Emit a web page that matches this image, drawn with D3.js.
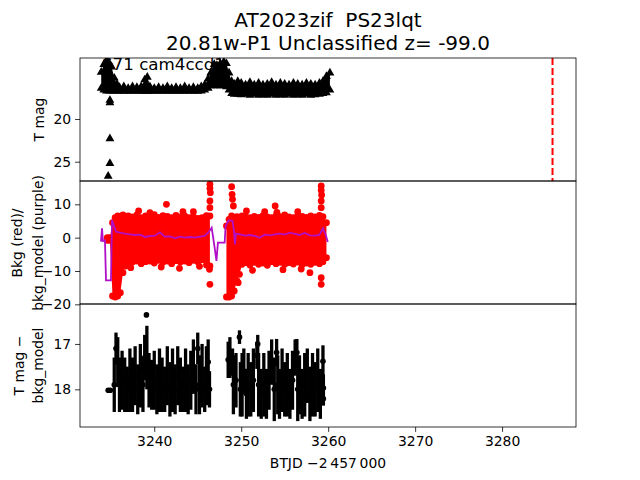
<!DOCTYPE html>
<html>
<head>
<meta charset="utf-8">
<script src="https://cdn.jsdelivr.net/npm/d3@7"></script>
<style>
  body { margin: 0; background: #fff; }
  svg text { font-family: "DejaVu Sans", sans-serif; }
</style>
</head>
<body>
<svg id="chart" width="640" height="480"></svg>
<script>
// --- top panel: T mag (triangles), band as [time, upper mag, lower mag]
const tmagBand = [
  [3233.9, 14.5, 16.4], [3234.2, 13.6, 16.6], [3234.5, 13.2, 16.7], [3234.8, 13.4, 16.7],
  [3235.1, 13.9, 16.7], [3235.4, 15.2, 16.7], [3235.7, 15.9, 16.7], [3236.0, 16.3, 16.75],
  [3236.5, 16.2, 16.75], [3237.0, 16.4, 16.75], [3237.5, 16.2, 16.75], [3238.0, 16.3, 16.75],
  [3238.5, 16.2, 16.75], [3238.9, 15.4, 16.75], [3239.2, 15.1, 16.75], [3239.5, 16.2, 16.75],
  [3240.0, 16.4, 16.75], [3240.5, 16.3, 16.75], [3241.0, 16.4, 16.75], [3241.5, 16.2, 16.75],
  [3242.0, 16.4, 16.75], [3242.5, 16.3, 16.75], [3243.0, 16.4, 16.75], [3243.5, 16.2, 16.75],
  [3244.0, 16.4, 16.75], [3244.5, 16.3, 16.75], [3245.0, 16.4, 16.75], [3245.4, 16.2, 16.7],
  [3245.8, 16.0, 16.6], [3246.2, 15.3, 16.4], [3246.5, 14.6, 16.1], [3246.9, 13.6, 16.1],
  [3247.2, 13.7, 16.1], [3247.6, 13.5, 16.1], [3248.0, 13.3, 16.1], [3248.3, 13.5, 16.2],
  [3248.6, 14.6, 16.6], [3248.9, 15.6, 17.0], [3249.2, 15.9, 17.1], [3249.6, 15.6, 17.1],
  [3250.0, 15.8, 17.15], [3250.5, 16.0, 17.1], [3251.0, 15.7, 17.2], [3251.5, 16.0, 17.1],
  [3252.0, 15.8, 17.2], [3252.5, 16.0, 17.15], [3253.0, 15.9, 17.2], [3253.5, 15.7, 17.1],
  [3254.0, 16.0, 17.2], [3254.5, 15.8, 17.15], [3255.0, 15.9, 17.2], [3255.5, 16.0, 17.1],
  [3256.0, 15.8, 17.2], [3256.5, 15.9, 17.15], [3257.0, 16.0, 17.2], [3257.5, 15.8, 17.1],
  [3258.0, 15.9, 17.2], [3258.5, 16.0, 17.15], [3259.0, 15.8, 17.1], [3259.4, 15.6, 17.0],
  [3259.8, 15.0, 16.9], [3260.2, 14.6, 16.6]
];
const tmagFaint = [[3234.9, 17.8], [3234.9, 18.1], [3234.9, 22.3], [3234.9, 25.2], [3234.7, 26.7]];
const newsTime = 3285.8;

// --- middle panel: background, band as [time, low, high], outliers and model
const bkgBand = [
  [3234.6, -0.8, 0.0], [3234.9, -0.8, 0.0], [3235.2, -17.5, 4.5], [3235.5, -17.8, 6.0],
  [3235.8, -17.5, 6.5], [3236.1, -16.5, 6.2], [3236.4, -10.5, 6.8], [3236.7, -8.5, 6.0],
  [3237.0, -7.8, 6.5], [3237.5, -7.3, 6.2], [3238.0, -7.0, 6.8], [3238.5, -7.8, 6.0],
  [3239.0, -7.2, 6.5], [3239.5, -7.0, 6.3], [3240.0, -7.6, 6.9], [3240.5, -6.8, 6.1],
  [3241.0, -7.4, 6.6], [3241.5, -7.0, 6.4], [3242.0, -7.8, 6.0], [3242.5, -6.9, 6.7],
  [3243.0, -7.3, 6.2], [3243.5, -7.0, 6.5], [3244.0, -7.5, 6.0], [3244.5, -6.8, 6.3],
  [3245.0, -7.2, 5.8], [3245.5, -6.6, 6.0], [3246.0, -8.2, 6.6], [3246.4, -8.5, 6.5]
];
const bkgBand2 = [
  [3248.3, -17.8, 3.5], [3248.6, -17.8, 5.5], [3248.9, -17.5, 6.5], [3249.2, -16.0, 6.0],
  [3249.5, -13.0, 6.3], [3249.8, -11.0, 6.0], [3250.1, -8.0, 6.5], [3250.5, -7.5, 6.2],
  [3251.0, -8.2, 6.0], [3251.5, -7.4, 6.4], [3252.0, -8.0, 6.1], [3252.5, -7.6, 6.6],
  [3253.0, -8.3, 6.2], [3253.5, -7.2, 6.0], [3254.0, -7.8, 6.5], [3254.5, -7.4, 6.3],
  [3255.0, -8.0, 6.8], [3255.5, -7.5, 6.2], [3256.0, -7.9, 6.0], [3256.5, -7.3, 6.6],
  [3257.0, -8.1, 6.4], [3257.5, -7.6, 6.1], [3258.0, -8.0, 6.5], [3258.5, -7.4, 6.2],
  [3259.0, -7.8, 6.7], [3259.4, -7.2, 6.3], [3259.8, -6.0, 4.5]
];
const bkgOutliers = [
  [3241.4, 10.0], [3243.3, 7.8], [3238.2, 8.0], [3239.5, 7.5], [3244.5, 7.8],
  [3237.3, -9.0], [3240.8, -8.8], [3242.9, -9.2], [3245.2, -8.6],
  [3246.4, 16.0], [3246.4, 14.8], [3246.45, 13.5], [3246.4, 11.0], [3246.4, 9.0],
  [3246.4, -14.0], [3246.35, -9.5],
  [3248.9, 15.3], [3248.95, 13.0], [3249.0, 11.5], [3249.1, 9.5], [3249.65, -13.5],
  [3252.7, 7.8], [3253.9, 9.5], [3254.1, 7.6], [3256.5, 7.8], [3257.9, -10.5],
  [3251.3, -9.8], [3254.8, -9.6], [3256.9, -9.4], [3250.6, 8.0],
  [3259.2, 15.5], [3259.2, 14.2], [3259.25, 12.8], [3259.2, 11.0], [3259.2, 9.0],
  [3259.2, -12.0], [3259.2, -14.0]
];
const bkgModel = [
  [3233.87, -1.2], [3233.99, 2.8], [3234.1, -1.0], [3234.33, -0.8], [3234.45, -12.8],
  [3235.02, -12.8], [3235.14, 5.3], [3235.37, 3.5], [3235.6, 1.8], [3236.06, 1.5],
  [3236.6, 1.2], [3237.2, 1.0], [3237.8, 0.8], [3238.36, 0.9], [3238.93, 0.2],
  [3239.5, 0.5], [3240.08, 0.6], [3240.66, 1.6], [3241.2, 0.3], [3241.8, 0.4],
  [3242.4, -0.2], [3242.95, 0.3], [3243.5, 0.0], [3244.1, 0.2], [3244.7, 0.0],
  [3245.25, 0.3], [3245.8, 0.5], [3246.3, 1.8], [3246.6, 3.0], [3246.75, 0.5],
  [3246.97, -3.5], [3247.15, -7.0], [3247.32, -1.5], [3248.1, -1.5], [3248.2, 3.5],
  [3248.56, 5.2], [3249.0, 5.0], [3249.16, 2.0], [3249.28, -2.0], [3249.4, 1.2],
  [3249.85, 1.0], [3250.4, 0.6], [3251.0, 0.8], [3251.6, 0.5], [3252.1, 0.0],
  [3252.7, 0.9], [3253.3, 0.7], [3253.9, 1.0], [3254.4, 1.2], [3255.0, 0.9],
  [3255.6, 1.5], [3256.2, 1.1], [3256.7, 0.8], [3257.3, 1.4], [3257.9, 0.7],
  [3258.5, 0.6], [3259.0, 0.8], [3259.4, 2.8], [3259.7, 1.0], [3259.95, -1.3]
];

// --- bottom panel: T mag - bkg_model as [time, mag, error]
const diffPoints = [
  [3234.7, 18.02, 0.03], [3234.95, 18.02, 0.03], [3235.4, 17.9, 0.6], [3235.6, 17.1, 0.35],
  [3235.8, 17.4, 0.55], [3236.0, 17.9, 0.6], [3236.3, 17.8, 0.65], [3236.6, 17.9, 0.6],
  [3236.9, 18.0, 0.5], [3237.2, 17.8, 0.7], [3237.5, 17.9, 0.6], [3237.8, 17.7, 0.65],
  [3238.1, 18.0, 0.55], [3238.4, 17.7, 0.7], [3238.7, 17.9, 0.6], [3238.9, 17.3, 0.5],
  [3239.1, 16.36, 0.04], [3239.15, 17.3, 0.7], [3239.4, 17.8, 0.6], [3239.7, 17.9, 0.55],
  [3240.0, 17.8, 0.65], [3240.3, 18.0, 0.55], [3240.6, 17.8, 0.7], [3240.9, 17.9, 0.6],
  [3241.2, 18.0, 0.5], [3241.5, 17.7, 0.65], [3241.8, 18.0, 0.6], [3242.1, 17.8, 0.7],
  [3242.4, 18.0, 0.55], [3242.7, 17.7, 0.65], [3243.0, 17.9, 0.6], [3243.3, 18.0, 0.5],
  [3243.6, 17.8, 0.7], [3243.9, 18.0, 0.55], [3244.2, 17.8, 0.65], [3244.5, 17.5, 0.6],
  [3244.8, 18.0, 0.55], [3245.0, 17.1, 0.35], [3245.2, 17.9, 0.65], [3245.5, 17.7, 0.7],
  [3245.8, 18.0, 0.5], [3246.0, 17.7, 0.65], [3246.2, 17.4, 0.5], [3246.35, 18.0, 0.4],
  [3248.5, 17.35, 0.4], [3248.7, 17.3, 0.45], [3249.0, 17.4, 0.3], [3249.1, 17.9, 0.65],
  [3249.4, 17.8, 0.6], [3249.8, 16.85, 0.15], [3249.9, 18.0, 0.6], [3250.1, 17.9, 0.7],
  [3250.3, 17.6, 0.5], [3250.6, 18.1, 0.55], [3250.8, 17.9, 0.7], [3251.1, 18.0, 0.6],
  [3251.4, 17.8, 0.7], [3251.8, 17.25, 0.3], [3251.9, 17.0, 0.2], [3252.0, 17.9, 0.7],
  [3252.3, 18.1, 0.55], [3252.6, 17.9, 0.7], [3252.9, 18.1, 0.55], [3253.2, 17.8, 0.65],
  [3253.5, 17.4, 0.5], [3253.8, 18.0, 0.7], [3254.07, 17.19, 0.3], [3254.2, 17.9, 0.65],
  [3254.4, 18.1, 0.55], [3254.7, 17.8, 0.7], [3255.0, 18.0, 0.6], [3255.3, 17.9, 0.7],
  [3255.6, 18.1, 0.55], [3255.9, 17.8, 0.65], [3256.2, 17.3, 0.4], [3256.4, 17.19, 0.3],
  [3256.5, 18.0, 0.7], [3256.7, 17.9, 0.65], [3257.0, 18.1, 0.55], [3257.3, 17.9, 0.7],
  [3257.6, 17.7, 0.6], [3257.9, 18.1, 0.6], [3258.2, 17.9, 0.7], [3258.5, 18.0, 0.6],
  [3258.8, 17.8, 0.7], [3259.1, 18.1, 0.55], [3259.4, 17.38, 0.35], [3259.45, 17.97, 0.3],
  [3259.45, 18.21, 0.15]
];

const titleLines = ["AT2023zif  PS23lqt", "20.81w-P1 Unclassified z= -99.0"];
const sectorLabel = "S71 cam4ccd1";
const xTicks = [3240, 3250, 3260, 3270, 3280];

const svg = d3.select("#chart");
const left = 80, right = 576;
const tops = [58, 181, 304], ph = 123;

const x = d3.scaleLinear().domain([3231.46, 3288.5]).range([left, right]);
const y1 = d3.scaleLinear().domain([12.85, 27.26]).range([tops[0], tops[0] + ph]);
const y2 = d3.scaleLinear().domain([-19.9, 17.0]).range([tops[1] + ph, tops[1]]);
const y3 = d3.scaleLinear().domain([16.12, 18.83]).range([tops[2], tops[2] + ph]);

const purple = "#b010c8";

function styleAxis(g) {
  g.select(".domain").remove();
  g.selectAll("line").attr("stroke", "#000").attr("stroke-width", 0.8);
  g.selectAll("text")
    .attr("fill", "#000")
    .attr("font-size", "13.9px")
    .attr("font-family", "DejaVu Sans");
}

function panel(i) {
  const id = "clip" + i;
  svg.append("clipPath").attr("id", id)
    .append("rect").attr("x", left).attr("y", tops[i])
    .attr("width", right - left).attr("height", ph);
  return svg.append("g").attr("clip-path", `url(#${id})`);
}

// title
svg.selectAll(".title").data(titleLines).enter()
  .append("text").attr("class", "title")
  .attr("x", 328).attr("y", (d, i) => 27 + i * 23)
  .attr("text-anchor", "middle").attr("font-size", "20px")
  .style("white-space", "pre")
  .text(d => d);

// ---- panel 1
const g1 = panel(0);
g1.append("text").attr("x", 102).attr("y", 70)
  .attr("font-size", "16.7px").text(sectorLabel);

g1.append("path")
  .attr("fill", "#000")
  .attr("d", d3.area().x(d => x(d[0])).y0(d => y1(d[2])).y1(d => y1(d[1]))(tmagBand));

const tri = d3.symbol().type(d3.symbolTriangle).size(34);
const triPts = tmagBand.flatMap(d => [[d[0], d[1]], [d[0], d[2]]]).concat(tmagFaint);
g1.selectAll(".tri").data(triPts).enter()
  .append("path").attr("class", "tri")
  .attr("d", tri).attr("fill", "#000")
  .attr("transform", d => `translate(${x(d[0])},${y1(d[1])})`);

g1.append("line")
  .attr("x1", x(newsTime)).attr("x2", x(newsTime))
  .attr("y1", y1.range()[0]).attr("y2", y1.range()[1])
  .attr("stroke", "#ff0000").attr("stroke-width", 2)
  .attr("stroke-dasharray", "7,3");

// ---- panel 2
const g2 = panel(1);
const bandArea = d3.area().x(d => x(d[0])).y0(d => y2(d[1])).y1(d => y2(d[2]));
[bkgBand, bkgBand2].forEach(band => {
  g2.append("path").attr("fill", "#ff0000").attr("d", bandArea(band));
});
const redPts = bkgBand.concat(bkgBand2)
  .flatMap(d => [[d[0], d[1]], [d[0], d[2]]])
  .concat(bkgOutliers);
g2.selectAll(".bkg").data(redPts).enter()
  .append("circle").attr("class", "bkg")
  .attr("cx", d => x(d[0])).attr("cy", d => y2(d[1]))
  .attr("r", 3.4).attr("fill", "#ff0000");

g2.append("path")
  .attr("fill", "none").attr("stroke", purple).attr("stroke-width", 1.8)
  .attr("d", d3.line().x(d => x(d[0])).y(d => y2(d[1]))(bkgModel));

// ---- panel 3
const g3 = panel(2);
g3.selectAll(".err").data(diffPoints).enter()
  .append("line").attr("class", "err")
  .attr("x1", d => x(d[0])).attr("x2", d => x(d[0]))
  .attr("y1", d => y3(d[1] - d[2])).attr("y2", d => y3(d[1] + d[2]))
  .attr("stroke", "#000").attr("stroke-width", 3.3);
g3.selectAll(".pt").data(diffPoints).enter()
  .append("circle").attr("class", "pt")
  .attr("cx", d => x(d[0])).attr("cy", d => y3(d[1]))
  .attr("r", 2.8).attr("fill", "#000");

// frames
tops.forEach(t => {
  svg.append("rect").attr("x", left).attr("y", t)
    .attr("width", right - left).attr("height", ph)
    .attr("fill", "none").attr("stroke", "#000").attr("stroke-width", 0.8);
});

// axes
const fmt = d3.format("d");
svg.append("g").attr("transform", `translate(${left},0)`)
  .call(d3.axisLeft(y1).tickValues([20, 25]).tickFormat(fmt).tickSize(4.9).tickPadding(4))
  .call(styleAxis);
svg.append("g").attr("transform", `translate(${left},0)`)
  .call(d3.axisLeft(y2).tickValues([10, 0, -10, -20]).tickFormat(fmt).tickSize(4.9).tickPadding(4))
  .call(styleAxis);
svg.append("g").attr("transform", `translate(${left},0)`)
  .call(d3.axisLeft(y3).tickValues([17, 18]).tickFormat(fmt).tickSize(4.9).tickPadding(4))
  .call(styleAxis);
svg.append("g").attr("transform", `translate(0,${tops[2] + ph})`)
  .call(d3.axisBottom(x).tickValues(xTicks).tickFormat(fmt).tickSize(4.9).tickPadding(4))
  .call(styleAxis);

// axis labels
svg.append("text").attr("x", 328).attr("y", 468)
  .attr("text-anchor", "middle").attr("font-size", "13.9px")
  .text("BTJD \u22122\u2009457\u2009000");

const ylabels = [
  { lines: ["T mag"], xs: [44], cy: 119.5 },
  { lines: ["Bkg (red)/", "bkg_model (purple)"], xs: [22, 43], cy: 243 },
  { lines: ["T mag \u2212", "bkg_model"], xs: [24, 43], cy: 365.5 }
];
ylabels.forEach(l => {
  l.lines.forEach((s, i) => {
    svg.append("text")
      .attr("transform", `translate(${l.xs[i]},${l.cy}) rotate(-90)`)
      .attr("text-anchor", "middle").attr("font-size", "13.9px")
      .text(s);
  });
});
</script>
</body>
</html>
